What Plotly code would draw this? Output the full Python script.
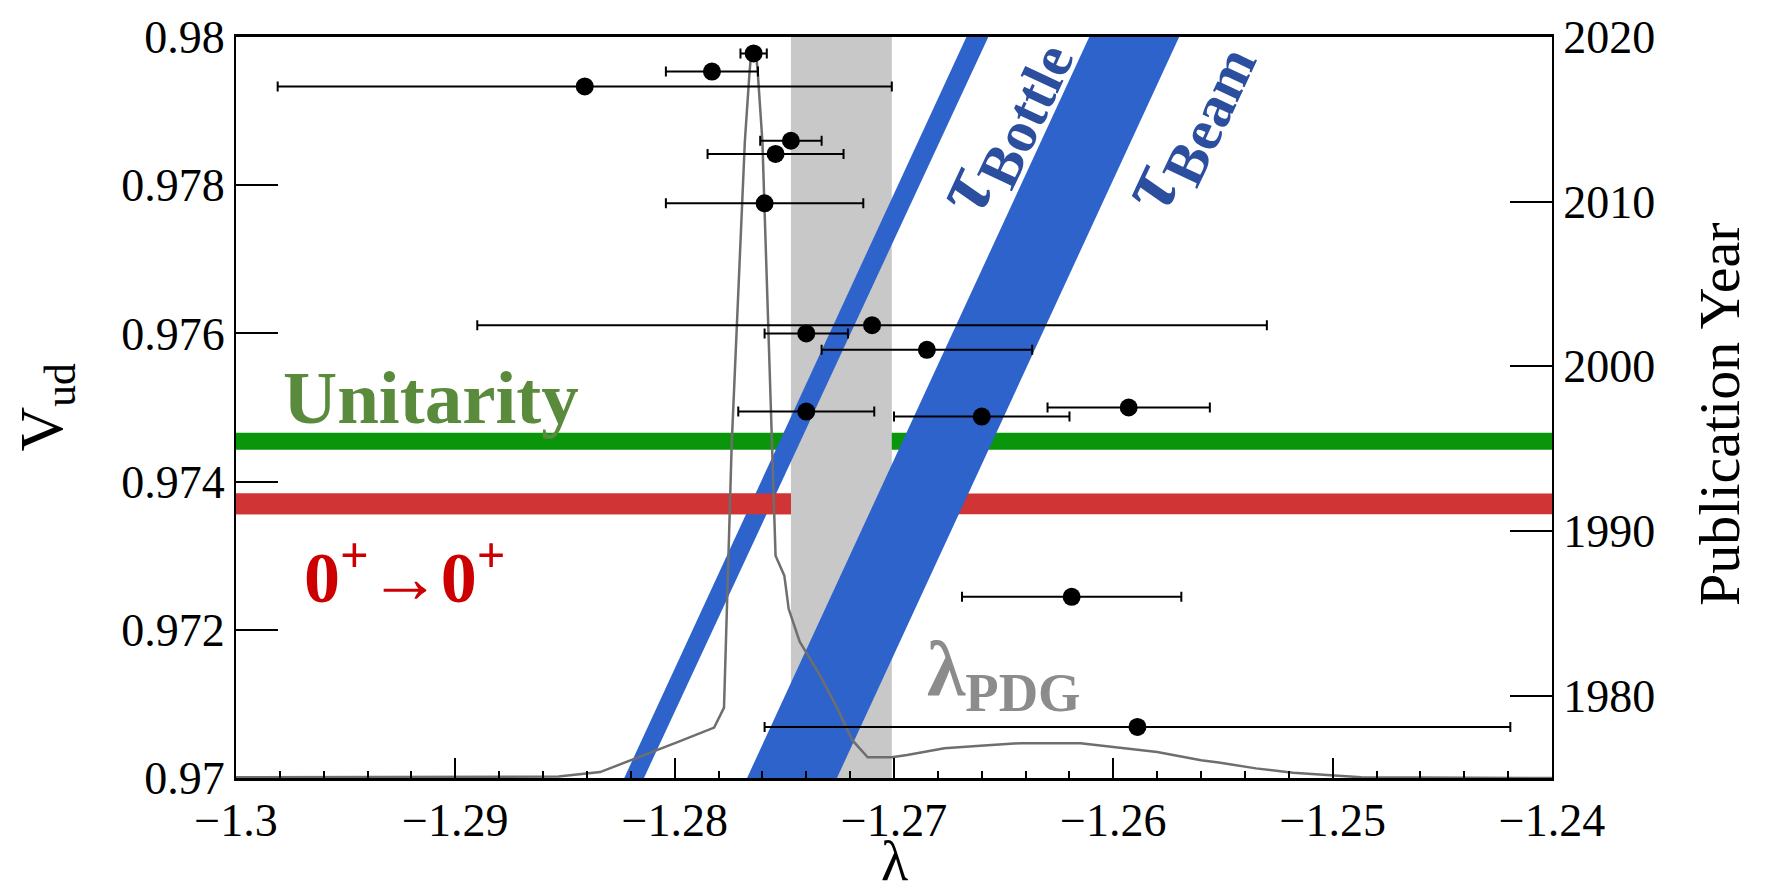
import plotly.graph_objects as go

# Neutron decay measurements: axial coupling ratio lambda vs publication year
lam = [-1.2764, -1.2783, -1.2841, -1.2747, -1.2754, -1.2759, -1.2710,
       -1.2740, -1.2685, -1.2740, -1.2660, -1.2593, -1.2619, -1.2589]
lam_err = [0.0006, 0.0021, 0.0140, 0.0014, 0.0031, 0.0045, 0.0180,
           0.0019, 0.0048, 0.0031, 0.0040, 0.0037, 0.0050, 0.0170]
year = [2019.0, 2017.9, 2017.0, 2013.7, 2012.9, 2009.9, 2002.5,
        2002.0, 2001.0, 1997.25, 1996.95, 1997.5, 1986.0, 1978.1]

# Posterior distribution of lambda (relative height)
hist_lam = [-1.3000, -1.2853, -1.2834, -1.2817, -1.2799, -1.2782, -1.27775,
            -1.2774, -1.27705, -1.2768, -1.2766, -1.2765, -1.2763, -1.2762,
            -1.2760, -1.2758, -1.2757, -1.27555, -1.2754, -1.2750, -1.2748,
            -1.2743, -1.2734, -1.2726, -1.2719, -1.2712, -1.2701, -1.2694,
            -1.2677, -1.2659, -1.2642, -1.2615, -1.2598, -1.2580, -1.2560,
            -1.2552, -1.2535, -1.2518, -1.2487, -1.2400]
hist_h = [0.001, 0.002, 0.008, 0.027, 0.048, 0.068, 0.095,
          0.450, 0.680, 0.859, 0.947, 0.983, 0.983, 0.947,
          0.859, 0.680, 0.593, 0.459, 0.300, 0.273, 0.228,
          0.184, 0.140, 0.095, 0.051, 0.028, 0.028, 0.031,
          0.040, 0.044, 0.047, 0.047, 0.041, 0.035, 0.024,
          0.021, 0.013, 0.007, 0.001, 0.000]

# Vud bands
unitarity_band = [0.97443, 0.97466]
superallowed_band = [0.97356, 0.97384]
# lambda PDG band
pdg_band = [-1.2747, -1.2701]
# lifetime bands: lambda edges at Vud = 0.97 (bottom) and Vud = 0.98 (top)
vud_range = [0.97, 0.98]
bottle_bottom = [-1.2823, -1.2814]
bottle_top = [-1.2667, -1.2657]
beam_bottom = [-1.2767, -1.2726]
beam_top = [-1.2611, -1.2570]

x_ticks = [-1.30, -1.29, -1.28, -1.27, -1.26, -1.25, -1.24]
x_ticktext = ["\u22121.3", "\u22121.29", "\u22121.28", "\u22121.27",
              "\u22121.26", "\u22121.25", "\u22121.24"]
vud_ticks = [0.970, 0.972, 0.974, 0.976, 0.978, 0.980]
vud_ticktext = ["0.97", "0.972", "0.974", "0.976", "0.978", "0.98"]
year_ticks = [1980, 1990, 2000, 2010, 2020]
year_ticktext = ["1980", "1990", "2000", "2010", "2020"]

FONT = "Liberation Serif, Times New Roman, serif"
BLUE = "#2f63cc"
TAU = "#2b4e9e"
RED = "#d03434"

fig = go.Figure()

fig.add_trace(go.Scatter(
    x=hist_lam, y=hist_h, yaxis="y2", mode="lines",
    line=dict(color="#6e6e6e", width=2.5),
    hoverinfo="skip", showlegend=False))

fig.add_trace(go.Scatter(
    x=lam, y=year, yaxis="y3", mode="markers",
    marker=dict(color="black", size=18),
    error_x=dict(type="data", array=lam_err, color="black",
                 thickness=2, width=5),
    showlegend=False))


def band_path(bottom, top):
    return (f"M {bottom[0]},{vud_range[0]} L {bottom[1]},{vud_range[0]} "
            f"L {top[1]},{vud_range[1]} L {top[0]},{vud_range[1]} Z")


def hband(x0, x1, band, color):
    return dict(type="rect", xref="x", yref="y", x0=x0, x1=x1,
                y0=band[0], y1=band[1], fillcolor=color, line_width=0,
                layer="below")


shapes = [
    hband(x_ticks[0], x_ticks[-1], unitarity_band, "#0a960a"),
    hband(x_ticks[0], x_ticks[-1], superallowed_band, RED),
    dict(type="rect", xref="x", yref="y", x0=pdg_band[0], x1=pdg_band[1],
         y0=vud_range[0], y1=vud_range[1],
         fillcolor="#c8c8c8", line_width=0, layer="below"),
    dict(type="path", xref="x", yref="y", path=band_path(bottle_bottom, bottle_top),
         fillcolor=BLUE, line_width=0, layer="below"),
    # the 0+ -> 0+ band passes over the bottle band left of the PDG band
    hband(x_ticks[0], pdg_band[0], superallowed_band, RED),
    dict(type="path", xref="x", yref="y", path=band_path(beam_bottom, beam_top),
         fillcolor=BLUE, line_width=0, layer="below"),
]


def label(text, x, y, size, color, angle=0, ref="data", height=None):
    r = ("x", "y") if ref == "data" else ("paper", "paper")
    d = dict(text=text, x=x, y=y, xref=r[0], yref=r[1], showarrow=False,
             xanchor="center", yanchor="middle", textangle=angle,
             font=dict(family=FONT, size=size, color=color))
    if height is not None:
        d["height"] = height
    return d


annotations = [
    label("<b>Unitarity</b>", -1.2911, 0.97514, 75, "#5a8a3c"),
    label("<b>0<sup>+</sup>\u21920<sup>+</sup></b>", -1.2923, 0.97277, 72, "#cc0000"),
    label("<b>\u03bb<sub>PDG</sub></b>", -1.2650, 0.97141, 78, "#8c8c8c"),
    label("<b><i>\u03c4</i><sub>Bottle</sub></b>", -1.26518, 0.97882, 84, TAU, -65),
    label("<b><i>\u03c4</i><sub>Beam</sub></b>", -1.25678, 0.97882, 84, TAU, -65),
    # axis titles
    label("V<sub>ud</sub>", -0.1451, 0.5, 62, "black", -90, ref="paper"),
    label("\u03bb", 0.5, -0.112, 56, "black", ref="paper", height=48),
    label("Publication Year", 1.1277, 0.49, 58, "black", -90, ref="paper"),
]

fig.update_layout(
    width=1772, height=895,
    margin=dict(l=236, r=220, t=27, b=117),
    paper_bgcolor="white", plot_bgcolor="white",
    font=dict(family=FONT, size=46, color="black"),
    shapes=shapes, annotations=annotations,
    xaxis=dict(range=[x_ticks[0], x_ticks[-1]], tickmode="array",
               tickvals=x_ticks, ticktext=x_ticktext,
               ticks="inside", ticklen=20, tickwidth=2, tickcolor="black",
               minor=dict(ticks="inside", ticklen=7, tickwidth=2,
                          tickcolor="black", tick0=-1.3, dtick=0.002),
               showline=True, linewidth=2.5, linecolor="black", mirror=True,
               showgrid=False, zeroline=False),
    yaxis=dict(range=vud_range, tickmode="array", tickvals=vud_ticks,
               ticktext=vud_ticktext, ticks="inside", ticklen=42, tickwidth=2,
               tickcolor="black", showline=True, linewidth=2, linecolor="black",
               showgrid=False, zeroline=False),
    yaxis2=dict(range=[0, 1], overlaying="y", visible=False),
    yaxis3=dict(range=[1975, 2020], overlaying="y", side="right",
                tickmode="array", tickvals=year_ticks, ticktext=year_ticktext,
                ticks="inside", ticklen=42, tickwidth=2, tickcolor="black",
                showline=True, linewidth=2, linecolor="black",
                showgrid=False, zeroline=False),
)

fig.write_html("out.html")
